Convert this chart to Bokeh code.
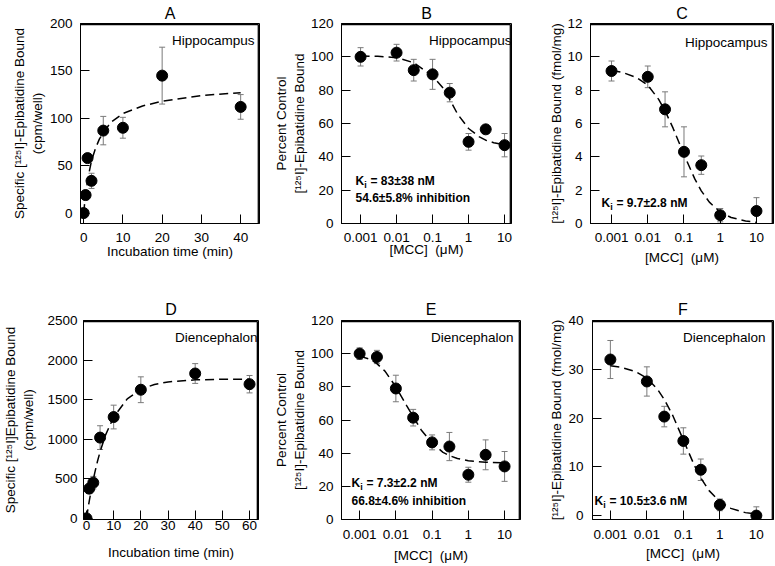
import math
from bokeh.plotting import figure
from bokeh.models import ColumnDataSource, Whisker, TeeHead, Label, Range1d, FixedTicker
from bokeh.layouts import column, row
from bokeh.embed import file_html
from bokeh.resources import INLINE

FONT = "Liberation Sans"

# ---------------- data ----------------
# Panel A: Hippocampus time course
a_time = [0, 0.5, 1, 2, 5, 10, 20, 40]
a_bound = [0, 19, 58, 34, 87, 90, 145, 112]
a_err = [3, 5, 4, 8, 15, 11, 30, 13]
a_fit_time = [0, 0.3, 0.7, 1, 1.5, 2, 3, 4, 5, 7, 10, 15, 20, 30, 40]
a_fit_bound = [0, 12, 25, 34, 45, 55, 68, 78, 85, 96, 105, 113, 118, 124, 127]

# Panel B: Hippocampus percent control
b_conc = [0.001, 0.01, 0.03, 0.1, 0.3, 1, 3, 10]
b_pct = [100, 102.5, 92, 89.5, 78.5, 49, 56.5, 47]
b_err = [5.5, 5, 6.5, 9, 5.5, 5, 1, 7]
b_fit_conc = [0.001, 0.003, 0.01, 0.03, 0.1, 0.2, 0.3, 0.5, 1, 2, 3, 5, 10]
b_fit_pct = [100.5, 100.3, 99.5, 96.5, 88.5, 81, 74.5, 65.5, 57, 52, 50, 48.5, 47.3]

# Panel C: Hippocampus fmol/mg
c_conc = [0.001, 0.01, 0.03, 0.1, 0.3, 1, 10]
c_bound = [9.15, 8.8, 6.85, 4.3, 3.5, 0.5, 0.75]
c_err = [0.6, 0.65, 1.05, 1.5, 0.55, 0.4, 0.8]
c_fit_conc = [0.001, 0.002, 0.005, 0.01, 0.02, 0.03, 0.05, 0.1, 0.2, 0.3, 0.5, 1, 2, 5, 10]
c_fit_bound = [9.18, 9.07, 8.75, 8.3, 7.45, 6.76, 5.72, 4.13, 2.66, 1.96, 1.28, 0.69, 0.36, 0.15, 0.07]

# Panel D: Diencephalon time course
d_time = [0, 1, 2.5, 5, 10, 20, 40, 60]
d_bound = [0, 375, 450, 1020, 1280, 1625, 1830, 1695]
d_err = [20, 60, 80, 150, 150, 163, 125, 110]
d_fit_time = [0, 0.5, 1, 2, 3, 4, 5, 7, 10, 15, 20, 25, 30, 40, 50, 60]
d_fit_bound = [0, 111, 215, 403, 568, 714, 841, 1052, 1280, 1510, 1629, 1692, 1724, 1750, 1757, 1759]

# Panel E: Diencephalon percent control
e_conc = [0.001, 0.003, 0.01, 0.03, 0.1, 0.3, 1, 3, 10]
e_pct = [100, 98, 79, 61.4, 46.5, 44, 27, 39, 32]
e_err = [3.5, 4, 8, 5, 4.5, 8.5, 4.5, 9, 9]
e_fit_conc = [0.001, 0.002, 0.003, 0.005, 0.01, 0.02, 0.03, 0.05, 0.1, 0.2, 0.3, 0.5, 1, 3, 10]
e_fit_pct = [98.5, 96.5, 94, 89.5, 80, 68.5, 62, 54, 46, 40.5, 38.5, 36.8, 35.4, 34.5, 34.2]

# Panel F: Diencephalon fmol/mg
f_conc = [0.001, 0.01, 0.03, 0.1, 0.3, 1, 10]
f_bound = [32, 27.5, 20.3, 15.3, 9.4, 2.2, 0]
f_err = [3.9, 3, 2.1, 2.7, 2.2, 1.2, 1.8]
f_fit_conc = [0.001, 0.002, 0.005, 0.01, 0.02, 0.03, 0.05, 0.1, 0.2, 0.3, 0.5, 1, 2, 5, 10]
f_fit_bound = [30.7, 30.4, 29.5, 28.2, 25.8, 23.8, 20.7, 15.5, 10.3, 7.75, 5.17, 2.82, 1.48, 0.61, 0.31]

# ticks
log_ticks = [0.001, 0.01, 0.1, 1, 10]
log_tick_labels = ["0.001", "0.01", "0.1", "1", "10"]
a_xticks = [0, 10, 20, 30, 40]
a_yticks = [0, 50, 100, 150, 200]
d_xticks = [0, 10, 20, 30, 40, 50, 60]
d_yticks = [0, 500, 1000, 1500, 2000, 2500]
pct_yticks = [0, 20, 40, 60, 80, 100, 120]
c_yticks = [0, 2, 4, 6, 8, 10, 12]
f_yticks = [0, 10, 20, 30, 40]

time_label = "Incubation time (min)"
mcc_label = "[MCC]\u00a0\u00a0(\u03bcM)"


def inset(lo, hi, px, size, log):
    # value that lies `px` screen pixels inside the `hi` end of a range
    if log:
        a, b = math.log10(lo), math.log10(hi)
        return 10 ** (b - px * (b - a) / size)
    return hi - px * (hi - lo) / size


def make_fig(width, height, mbl, mbr, mbt, mbb, xr, yr, log=False):
    p = figure(width=width, height=height, output_backend="svg", toolbar_location=None,
               x_axis_type="log" if log else "linear",
               x_range=Range1d(*xr), y_range=Range1d(*yr),
               min_border_left=mbl, min_border_right=mbr,
               min_border_top=mbt, min_border_bottom=mbb)
    p.xgrid.visible = False
    p.ygrid.visible = False
    p.outline_line_color = "black"
    p.background_fill_color = "white"
    p.border_fill_color = "white"
    fw = width - mbl - mbr
    fh = height - mbt - mbb
    # top and right edges of the plot box, drawn just inside the frame
    xt = inset(xr[0], xr[1], 1.2, fw, log)
    yt = inset(yr[0], yr[1], 1.2, fh, False)
    p.line([xr[0], xt, xt], [yt, yt, yr[0]], line_color="black", line_width=1.3)
    xa, ya = p.below[0], p.left[0]
    for ax in (xa, ya):
        ax.axis_line_color = "black"
        ax.major_tick_in = 9
        ax.major_tick_out = 0
        ax.major_tick_line_color = "black"
        ax.minor_tick_line_color = None
        ax.major_label_text_font = FONT
        ax.major_label_text_font_size = "13.5px"
        ax.major_label_text_color = "black"
        ax.axis_label_text_font = FONT
        ax.axis_label_text_font_size = "13.5px"
        ax.axis_label_text_font_style = "normal"
        ax.axis_label_text_color = "black"
    return p


def draw(p, xs, ys, errs, fx, fy):
    p.line(fx, fy, line_color="black", line_width=1.5, line_dash="9 5")
    src = ColumnDataSource(dict(x=xs, y=ys,
                                lo=[y - e for y, e in zip(ys, errs)],
                                hi=[y + e for y, e in zip(ys, errs)]))
    w = Whisker(source=src, base="x", upper="hi", lower="lo", dimension="height",
                line_color="#7a7a7a", line_width=1,
                upper_head=TeeHead(size=6, line_color="#7a7a7a", line_width=1),
                lower_head=TeeHead(size=6, line_color="#7a7a7a", line_width=1),
                level="underlay")
    p.add_layout(w)
    p.scatter("x", "y", source=src, size=11, fill_color="black", line_color="black")


def text(p, x, y, s, size="13.5px", align="left", style="normal", baseline="middle"):
    p.add_layout(Label(x=x, y=y, x_units="screen", y_units="screen", text=s,
                       text_font=FONT, text_font_size=size, text_font_style=style,
                       text_align=align, text_baseline=baseline, text_color="black"))


def ki(p, x, y, rest):
    text(p, x, y, "K", size="12px", style="bold")
    text(p, x + 8.7, y - 4, "i", size="9px", style="bold")
    text(p, x + 15, y, rest, size="12px", style="bold")


def setup(p, xticks, yticks, xlabel, ylabel, fw, fh, letter, region, reg_dx, reg_dy,
          letter_standoff, log=False, x_standoff=9, xlab_standoff=-1, y_standoff=8,
          ylab_standoff=6):
    xa, ya = p.below[0], p.left[0]
    xa.ticker = FixedTicker(ticks=xticks)
    ya.ticker = FixedTicker(ticks=yticks)
    if log:
        xa.major_label_overrides = dict(zip(log_ticks, log_tick_labels))
    xa.axis_label = xlabel
    ya.axis_label = ylabel
    xa.major_label_standoff = x_standoff
    xa.axis_label_standoff = xlab_standoff
    ya.major_label_standoff = y_standoff
    ya.axis_label_standoff = ylab_standoff
    p.title.text = letter
    p.title.align = "center"
    p.title.text_font = FONT
    p.title.text_font_size = "16px"
    p.title.text_font_style = "normal"
    p.title.text_color = "black"
    p.title.standoff = letter_standoff
    text(p, fw - reg_dx, fh - reg_dy, region, align="right")


# ---------------- top row ----------------
TOP_H, TOP_T, TOP_B = 290, 23, 67

pa = make_fig(264, TOP_H, 80, 5, TOP_T, TOP_B, (-0.8, 44.8), (-11, 200))
draw(pa, a_time, a_bound, a_err, a_fit_time, a_fit_bound)
setup(pa, a_xticks, a_yticks, time_label,
      "Specific [\u00b9\u00b2\u2075I]-Epibatidine Bound\n(cpm/well)",
      179, 200, "A", "Hippocampus", 5, 17, 4, xlab_standoff=-1, ylab_standoff=2)

pb = make_fig(252, TOP_H, 77, 5, TOP_T, TOP_B, (0.000295, 15.6), (0, 120), log=True)
draw(pb, b_conc, b_pct, b_err, b_fit_conc, b_fit_pct)
setup(pb, log_ticks, pct_yticks, mcc_label,
      "Percent Control\n[\u00b9\u00b2\u2075I]-Epibatidine Bound",
      170, 200, "B", "Hippocampus", 0, 17, 4, log=True, xlab_standoff=-3, ylab_standoff=1)
ki(pb, 14, 43, "= 83\u00b138 nM")
text(pb, 14, 26, "54.6\u00b15.8% inhibition", size="12px", style="bold")

pc = make_fig(258, TOP_H, 74, 1, TOP_T, TOP_B, (0.000263, 29.5), (0, 12), log=True)
draw(pc, c_conc, c_bound, c_err, c_fit_conc, c_fit_bound)
setup(pc, log_ticks, c_yticks, mcc_label,
      "[\u00b9\u00b2\u2075I]-Epibatidine Bound (fmol/mg)",
      183, 200, "C", "Hippocampus", 6, 19, 4, log=True, xlab_standoff=5, ylab_standoff=0)
ki(pc, 11, 21, "= 9.7\u00b12.8 nM")

# ---------------- bottom row ----------------
BOT_H, BOT_T, BOT_B = 276, 30, 47

pd_ = make_fig(264, BOT_H, 79, 6, BOT_T, BOT_B, (-1.1, 63.3), (-15, 2500))
draw(pd_, d_time, d_bound, d_err, d_fit_time, d_fit_bound)
setup(pd_, d_xticks, d_yticks, time_label,
      "Specific [\u00b9\u00b2\u2075I]Epibatidine Bound\n(cpm/well)",
      179, 199, "D", "Diencephalon", 5, 17, 5, x_standoff=1, xlab_standoff=12,
      y_standoff=6, ylab_standoff=8)

pe = make_fig(260, BOT_H, 77, 4, BOT_T, BOT_B, (0.000316, 27.5), (0, 120), log=True)
draw(pe, e_conc, e_pct, e_err, e_fit_conc, e_fit_pct)
setup(pe, log_ticks, pct_yticks, mcc_label,
      "Percent Control\n[\u00b9\u00b2\u2075I]-Epibatidine Bound",
      179, 199, "E", "Diencephalon", 7, 17, 5, log=True, x_standoff=10, xlab_standoff=6,
      ylab_standoff=1)
ki(pe, 10, 37, "= 7.3\u00b12.2 nM")
text(pe, 10, 19, "66.8\u00b14.6% inhibition", size="12px", style="bold")

pf = make_fig(250, BOT_H, 68, 1, BOT_T, BOT_B, (0.000324, 29.5), (-0.8, 40), log=True)
draw(pf, f_conc, f_bound, f_err, f_fit_conc, f_fit_bound)
setup(pf, log_ticks, f_yticks, mcc_label,
      "[\u00b9\u00b2\u2075I]-Epibatidine Bound (fmol/mg)",
      181, 199, "F", "Diencephalon", 8, 17, 5, log=True, x_standoff=10, xlab_standoff=4,
      y_standoff=9, ylab_standoff=1)
ki(pf, 2, 19, "= 10.5\u00b13.6 nM")

layout = column(row(pa, pb, pc), row(pd_, pe, pf))

open("out.html", "w").write(file_html(layout, INLINE))
